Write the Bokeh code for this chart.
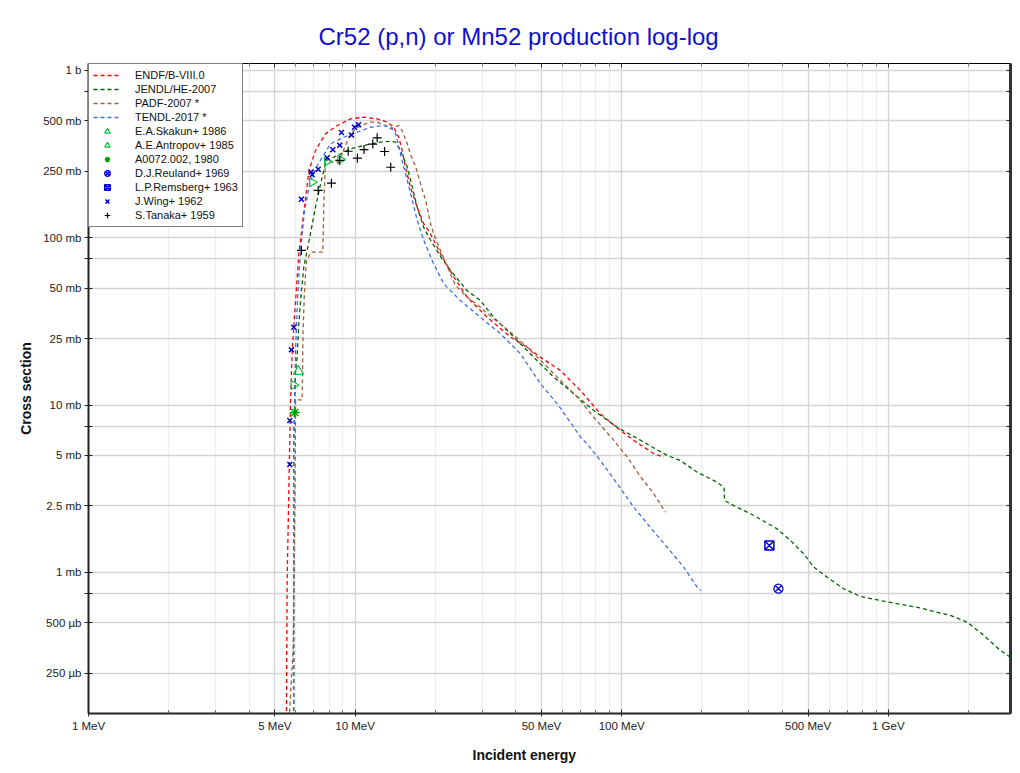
import numpy as np
from bokeh.plotting import figure
from bokeh.models import Range1d, FixedTicker, LogAxis, Legend, LegendItem, Title
from bokeh.embed import file_html
from bokeh.resources import INLINE

FONT = "Liberation Sans"

# ---------------- axis ticks ----------------
x_major = [1, 5, 10, 50, 100, 500, 1000]
x_major_labels = ["1 MeV", "5 MeV", "10 MeV", "50 MeV", "100 MeV", "500 MeV", "1 GeV"]
x_minor = [2, 3, 4, 6, 7, 8, 9, 20, 30, 40, 60, 70, 80, 90,
           200, 300, 400, 600, 700, 800, 900, 2000]
y_ticks = [0.25, 0.5, 0.75, 1, 2.5, 5, 7.5, 10, 25, 50, 75, 100, 250, 500, 750, 1000]
y_tick_labels = ["250 µb", "500 µb", "", "1 mb", "2.5 mb", "5 mb", "", "10 mb",
                 "25 mb", "50 mb", "", "100 mb", "250 mb", "500 mb", "", "1 b"]

# ---------------- evaluated data (MeV, mb) ----------------
endf_e = [5.48, 5.56, 5.72, 5.81, 5.98, 6.15, 6.71, 7.10, 7.74, 8.57, 9.61, 10.78, 12.1,
          13.2, 13.97, 14.58, 15.02, 15.45, 16.14, 17.1, 18.1, 18.9, 19.7, 21.2, 23.5,
          26.3, 31.3, 38.3, 44.2, 49.6, 58.9, 70.1, 83.2, 99, 111, 132, 144]
endf_s = [0.01, 0.9, 10, 21.2, 42.2, 80.3, 252, 332, 418, 469, 514, 526, 514,
          491, 458, 399, 332, 264, 200, 152, 121, 110, 97, 77, 58.1,
          44.2, 33.5, 25.5, 22.2, 19.3, 16.1, 12.2, 8.87, 7.05, 6.15, 5.12, 4.88]

jendl_e = [5.89, 5.89, 5.98, 6.06, 6.15, 6.29, 6.42, 6.80, 7.10, 7.42, 7.81, 8.57, 9.61,
           11.1, 12.45, 13.6, 14.2, 14.8, 15.7, 16.4, 17.1, 18.1, 19.2, 21.2, 22.8, 26.3,
           29.5, 33.1, 39.4, 46.8, 55.6, 66.1, 78.6, 96.2, 118, 148, 166, 192, 222, 242,
           243, 263, 313, 383, 430, 482, 526, 590, 681, 787, 962, 1284, 1711, 1977, 2282,
           2637, 2873]
jendl_s = [0.01, 6.14, 16.1, 19.3, 30.6, 48.4, 66.8, 105.6, 152, 210, 290, 310, 340,
           360, 373, 378, 373, 332, 264, 200, 152, 115, 96.4, 74.9, 63.8, 48.4,
           42.2, 33.5, 25.5, 19.3, 14.7, 11.7, 9.28, 7.37, 6.15, 5.0, 4.66, 3.97, 3.54, 3.23,
           2.69, 2.51, 2.19, 1.82, 1.55, 1.29, 1.074, 0.936, 0.798, 0.718, 0.673, 0.619, 0.553,
           0.504, 0.42, 0.341, 0.311]

padf_e = [5.64, 5.86, 5.95, 5.98, 6.33, 6.38, 6.46, 6.57, 6.84, 7.57, 7.64, 7.74, 8.66,
          8.94, 9.47, 9.89, 10.5, 11.4, 12.1, 13.0, 13.6, 14.2, 14.6, 15.0, 15.7, 16.1,
          16.9, 17.6, 18.4, 19.2, 19.7, 20.9, 22.2, 23.8, 26.3, 29.5, 33.1, 38.3, 44.2,
          49.6, 57.3, 68.1, 78.6, 93.4, 105, 118, 132, 146]
padf_s = [0.12, 0.357, 2.69, 10.76, 10.76, 27.9, 48.4, 73.1, 82.0, 82.0, 167, 283, 283,
          318, 399, 438, 469, 491, 491, 469, 448, 463, 469, 438, 365, 318,
          264, 210, 167, 121, 106, 84, 66.8, 51.9, 44.2, 38.5, 32.8, 27.3, 22.2,
          18.5, 14.7, 11.2, 8.46, 6.15, 4.88, 3.71, 2.95, 2.29]

tendl_e = [5.87, 5.88, 5.98, 6.08, 6.24, 6.46, 6.80, 7.29, 8.09, 9.07, 10.2, 11.4, 12.8,
           13.6, 14.2, 14.6, 15.0, 15.7, 16.4, 17.1, 18.1, 19.7, 21.5, 24.8, 29.5, 35.1,
           41.7, 49.6, 57.3, 66.1, 70.1, 74.2, 83.2, 96.2, 111, 128, 148, 171, 192, 198]
tendl_s = [0.01, 5.35, 21.2, 42.2, 84, 146, 220, 278, 365, 399, 428, 458, 469,
           458, 418, 348, 290, 220, 167, 127, 96.4, 70, 53.1, 42.2, 33.5, 26.7,
           20.3, 13.4, 10.2, 7.37, 6.43, 5.87, 4.66, 3.39, 2.45, 1.86, 1.415, 1.074, 0.816, 0.78]

# ---------------- experimental data (MeV, mb) ----------------
skakun_e = [5.89, 6.90, 7.86, 8.81]
skakun_s = [13.2, 215, 286, 294]
antropov_e = [6.13]
antropov_s = [15.9]
a0072_e = [5.94]
a0072_s = [9.03]
reuland_e = [387]
reuland_s = [0.80]
remsberg_e = [358]
remsberg_s = [1.45]
wing_e = [5.69, 5.69, 5.77, 5.89, 6.29, 6.84, 6.90, 7.27, 7.86, 8.25, 8.76, 8.89, 9.69, 9.95, 10.3]
wing_s = [4.42, 8.09, 21.4, 29.2, 170, 247, 239, 257, 301, 336, 358, 426, 411, 458, 474]
tanaka_e = [6.29, 7.27, 8.15, 8.76, 9.42, 10.2, 10.8, 11.65, 12.1, 12.9, 13.6]
tanaka_s = [84, 192, 212, 290, 329, 299, 337, 363, 396, 328, 264]

# ---------------- figure ----------------
p = figure(x_axis_type="log", y_axis_type="log",
           x_range=Range1d(1, 2873), y_range=Range1d(0.1435, 1101),
           frame_width=922, frame_height=650,
           min_border_left=88, min_border_top=63, min_border_right=4, min_border_bottom=0,
           output_backend="svg", toolbar_location=None,
           background_fill_color="white", border_fill_color="white")

p.title.text = "Cr52 (p,n) or Mn52 production log-log"
p.title.align = "left"
p.title.offset = 230
p.title.text_font = FONT
p.title.text_font_size = "24px"
p.title.text_font_style = "normal"
p.title.text_color = "#1010d0"
p.title.standoff = 27

p.outline_line_color = "black"
p.outline_line_width = 1

xt = FixedTicker(ticks=x_major, minor_ticks=x_minor)
yt = FixedTicker(ticks=y_ticks, minor_ticks=[])

xa = p.xaxis[0]
xa.ticker = xt
xa.major_label_overrides = dict(zip(x_major, x_major_labels))
xa.major_label_text_font = FONT
xa.major_label_text_font_size = "11.5px"
xa.major_label_text_color = "#222222"
xa.major_label_standoff = 3
xa.major_tick_in = 4
xa.major_tick_out = 3
xa.minor_tick_in = 3
xa.minor_tick_out = 0
xa.axis_line_width = 2
xa.axis_line_color = "#222222"
xa.major_tick_line_color = "#222222"
xa.minor_tick_line_color = "#555555"

ya = p.yaxis[0]
ya.ticker = yt
ya.major_label_overrides = dict(zip(y_ticks, y_tick_labels))
ya.major_label_text_font = FONT
ya.major_label_text_font_size = "11.5px"
ya.major_label_text_color = "#222222"
ya.major_label_standoff = 3
ya.major_tick_in = 4
ya.major_tick_out = 4
ya.axis_line_width = 2
ya.axis_line_color = "#222222"
ya.major_tick_line_color = "#222222"
ya.axis_label = "Cross section"
ya.axis_label_text_font = FONT
ya.axis_label_text_font_size = "14px"
ya.axis_label_text_font_style = "bold"
ya.axis_label_text_color = "#111111"
ya.axis_label_standoff = 6

top = LogAxis(ticker=FixedTicker(ticks=x_major, minor_ticks=x_minor),
              major_label_overrides={t: "" for t in x_major},
              major_label_text_font_size="1px", major_label_standoff=0,
              major_tick_in=4, major_tick_out=0, minor_tick_in=3, minor_tick_out=0,
              axis_line_color=None, major_tick_line_color="#333333",
              minor_tick_line_color="#777777")
p.add_layout(top, "above")
right = LogAxis(ticker=FixedTicker(ticks=y_ticks, minor_ticks=[]),
                major_label_overrides={t: "" for t in y_ticks},
                major_label_text_font_size="1px", major_label_standoff=0,
                major_tick_in=4, major_tick_out=0,
                axis_line_width=3, axis_line_color="#333333",
                major_tick_line_color="#222222")
p.add_layout(right, "right")

xlabel = Title(text="Incident energy", align="left", offset=384,
               text_font=FONT, text_font_size="14px", text_font_style="bold",
               text_color="#111111", standoff=21)
p.add_layout(xlabel, "below")

p.xgrid.ticker = xt
p.xgrid.grid_line_color = "#d4d4d4"
p.xgrid.grid_line_width = 1.3
p.xgrid.minor_grid_line_color = "#eeeeee"
p.xgrid.minor_grid_line_width = 1.3
p.ygrid.ticker = yt
p.ygrid.grid_line_color = "#d4d4d4"
p.ygrid.grid_line_width = 1.3

DASH = "4 3"
r_endf = p.line(endf_e, endf_s, line_color="#ff0000", line_width=1.3, line_dash=DASH)
r_jendl = p.line(jendl_e, jendl_s, line_color="#006400", line_width=1.3, line_dash=DASH)
r_padf = p.line(padf_e, padf_s, line_color="#a0603a", line_width=1.3, line_dash=DASH)
r_tendl = p.line(tendl_e, tendl_s, line_color="#3f6fe8", line_width=1.3, line_dash=DASH)

GREEN = "#10c040"
BLUE = "#0000cc"
r_sk = p.scatter(skakun_e, skakun_s, marker="triangle", angle=-np.pi / 2, size=9,
                 line_color=GREEN, fill_color=None, line_width=1.2)
r_an = p.scatter(antropov_e, antropov_s, marker="triangle", size=10,
                 line_color=GREEN, fill_color=None, line_width=1.2)
r_a0 = p.scatter(a0072_e, a0072_s, marker="asterisk", size=10,
                 line_color="#00a000", line_width=1.4)
r_re = p.scatter(reuland_e, reuland_s, marker="circle_x", size=9,
                 line_color=BLUE, fill_color=None, line_width=1.3)
r_rm = p.scatter(remsberg_e, remsberg_s, marker="square_x", size=9,
                 line_color=BLUE, fill_color=None, line_width=1.5)
r_wi = p.scatter(wing_e, wing_s, marker="x", size=7,
                 line_color=BLUE, line_width=1.5)
r_ta = p.scatter(tanaka_e, tanaka_s, marker="cross", size=9,
                 line_color="black", line_width=1.2)

items = [
    LegendItem(label="ENDF/B-VIII.0", renderers=[r_endf]),
    LegendItem(label="JENDL/HE-2007", renderers=[r_jendl]),
    LegendItem(label="PADF-2007 *", renderers=[r_padf]),
    LegendItem(label="TENDL-2017 *", renderers=[r_tendl]),
    LegendItem(label="E.A.Skakun+ 1986", renderers=[r_sk]),
    LegendItem(label="A.E.Antropov+ 1985", renderers=[r_an]),
    LegendItem(label="A0072.002, 1980", renderers=[r_a0]),
    LegendItem(label="D.J.Reuland+ 1969", renderers=[r_re]),
    LegendItem(label="L.P.Remsberg+ 1963", renderers=[r_rm]),
    LegendItem(label="J.Wing+ 1962", renderers=[r_wi]),
    LegendItem(label="S.Tanaka+ 1959", renderers=[r_ta]),
]
legend = Legend(items=items, location="top_left", margin=0, padding=4, spacing=0,
                glyph_width=28, glyph_height=14, label_height=14, label_standoff=14,
                label_text_font=FONT, label_text_font_size="11px",
                label_text_color="#111111",
                border_line_color="black", border_line_width=1,
                background_fill_color="white", background_fill_alpha=1)
p.add_layout(legend)

open("out.html", "w").write(file_html(p, INLINE))
